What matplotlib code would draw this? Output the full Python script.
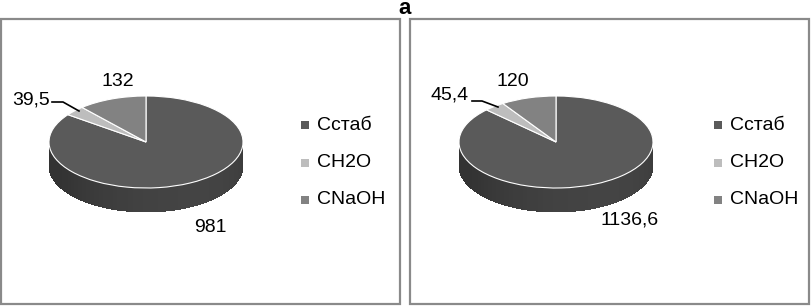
import numpy as np
import matplotlib
matplotlib.use("Agg")
import matplotlib.pyplot as plt
from matplotlib.patches import Rectangle, Polygon
from matplotlib import font_manager

names = {f.name for f in font_manager.fontManager.ttflist}
fam = "Liberation Sans Narrow" if "Liberation Sans Narrow" in names else "Liberation Sans"
plt.rcParams['font.family'] = [fam, 'DejaVu Sans']

# ---- data ----
categories = ["Сстаб", "СН2О", "СNaOH"]
left_values = [981, 39.5, 132]
right_values = [1136.6, 45.4, 120]
left_labels = ["981", "39,5", "132"]
right_labels = ["1136,6", "45,4", "120"]
title = "а"

top_colors = ["#5a5a5a", "#bdbdbd", "#828282"]
side_colors = ["#3c3c3c", "#8f8f8f", "#5f5f5f"]

W, H = 811, 306
fig = plt.figure(figsize=(W / 100, H / 100), dpi=100)
ax = fig.add_axes([0, 0, 1, 1])

R = 97.0
B = 46.0
K = R / B  # vertical data units per pixel
DEPTH = 24.0
FS = 14


def Y(ypx):
    return (H - ypx) * K


def draw_pie(cx, cy_px, values, labels, label_pos, leader, legend_x):
    cy = Y(cy_px)
    vals = np.array(values, dtype=float)
    frac = vals / vals.sum()
    cum = np.concatenate([[0], np.cumsum(frac)])
    # side walls (front half: angles between -180 and 0)
    for i in range(len(vals)):
        t_hi = 90 - cum[i] * 360
        t_lo = 90 - cum[i + 1] * 360
        lo = max(t_lo, -180)
        hi = min(t_hi, 0)
        if hi <= lo:
            lo2, hi2 = max(t_lo + 360, -180), min(t_hi + 360, 0)
            if hi2 <= lo2:
                continue
            lo, hi = lo2, hi2
        ts = np.linspace(lo, hi, 60)
        base = np.array(matplotlib.colors.to_rgb(side_colors[i]))
        for j in range(len(ts) - 1):
            a0, a1 = np.radians(ts[j]), np.radians(ts[j + 1] + 0.8 if j < len(ts) - 2 else ts[j + 1])
            xs = [cx + R * np.cos(a0), cx + R * np.cos(a1),
                  cx + R * np.cos(a1), cx + R * np.cos(a0)]
            ys = [cy + R * np.sin(a0), cy + R * np.sin(a1),
                  cy + R * np.sin(a1) - DEPTH * K, cy + R * np.sin(a0) - DEPTH * K]
            tm = (ts[j] + ts[j + 1]) / 2
            shade = 0.85 + 0.28 * max(0.0, np.cos(np.radians(tm + 60)))
            col = np.clip(base * shade, 0, 1)
            ax.add_patch(Polygon(list(zip(xs, ys)), closed=True, facecolor=col,
                                 edgecolor="none", linewidth=0, antialiased=False))
    # top face
    ax.pie(vals, colors=top_colors, startangle=90, counterclock=False,
           center=(cx, cy), radius=R,
           wedgeprops=dict(edgecolor="white", linewidth=0.8))
    # labels
    for lab, (lx, ly) in zip(labels, label_pos):
        ax.text(lx, Y(ly), lab, fontsize=FS, ha="center", va="center", color="black")
    # leader line
    ax.plot([p[0] for p in leader], [Y(p[1]) for p in leader], color="black", lw=1.2)
    # legend
    for k, (cat, col) in enumerate(zip(categories, top_colors)):
        ly = 125 + k * 37.5
        ax.add_patch(Rectangle((legend_x, Y(ly + 4)), 8, 8 * K, facecolor=col, edgecolor="none"))
        ax.text(legend_x + 16, Y(ly), cat, fontsize=FS, ha="left", va="center", color="black")


draw_pie(146, 142, left_values, left_labels,
         [(210, 227), (31, 100), (118, 82)],
         [(52, 102), (63, 102), (79, 111)], 301)
draw_pie(556, 142, right_values, right_labels,
         [(630, 220), (450, 95), (513, 82)],
         [(472, 101), (482, 101), (498, 107)], 714)

# panel frames
for x0, x1 in [(1, 400), (410, 809)]:
    ax.add_patch(Rectangle((x0, Y(304)), x1 - x0, (304 - 19) * K, fill=False,
                           edgecolor="#8a8a8a", linewidth=1.6))

ax.text(405, Y(9), title, fontsize=16, fontweight="bold", ha="center", va="center")

ax.set_aspect("auto")
ax.set_xlim(0, W)
ax.set_ylim(0, H * K)
ax.axis("off")

fig.savefig("out.png", dpi=100)
